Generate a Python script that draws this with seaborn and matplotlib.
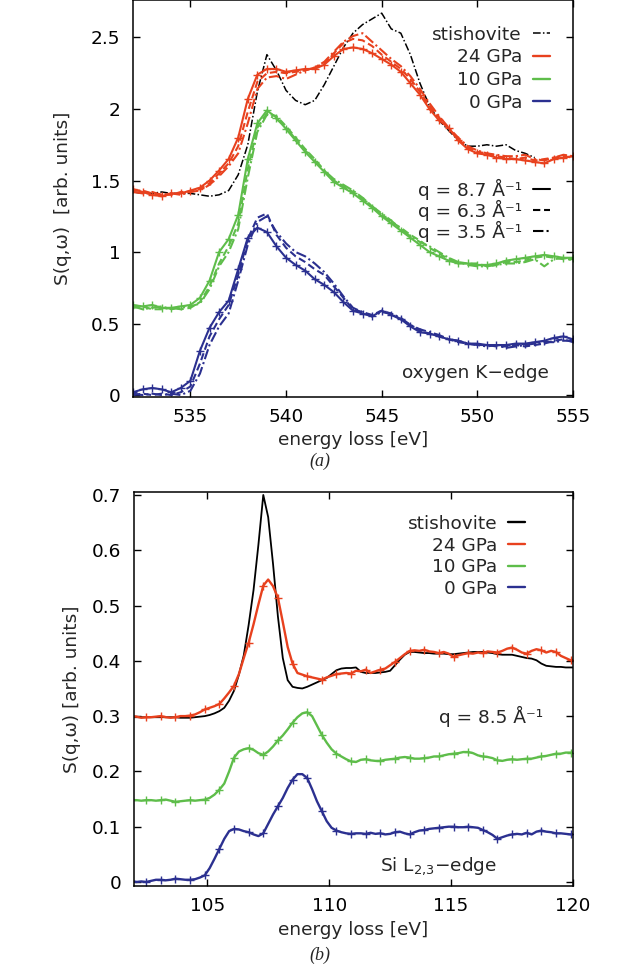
import numpy as np
import pandas as pd
import matplotlib
matplotlib.use('Agg')
import matplotlib.pyplot as plt
from matplotlib.lines import Line2D
import seaborn as sns

# ---- panel (a): oxygen K-edge, energy loss [eV] ----
e_oxygen = [532.0, 532.5, 533.0, 533.5, 534.0, 534.5, 535.0, 535.5, 536.0, 536.5,
            537.0, 537.5, 538.0, 538.5, 539.0, 539.5, 540.0, 540.5, 541.0, 541.5,
            542.0, 542.5, 543.0, 543.5, 544.0, 544.5, 545.0, 545.5, 546.0, 546.5,
            547.0, 547.5, 548.0, 548.5, 549.0, 549.5, 550.0, 550.5, 551.0, 551.5,
            552.0, 552.5, 553.0, 553.5, 554.0, 554.5, 555.0]

ox_stishovite = [1.42, 1.41, 1.41, 1.42, 1.41, 1.41, 1.41, 1.40, 1.39, 1.40,
                 1.43, 1.54, 1.75, 2.12, 2.38, 2.27, 2.13, 2.06, 2.03, 2.06,
                 2.17, 2.30, 2.43, 2.53, 2.59, 2.63, 2.67, 2.56, 2.53, 2.38,
                 2.18, 2.02, 1.92, 1.85, 1.78, 1.74, 1.74, 1.75, 1.74, 1.75,
                 1.71, 1.69, 1.66, np.nan, np.nan, np.nan, np.nan]

ox_24_q87 = [1.44, 1.42, 1.40, 1.39, 1.41, 1.41, 1.43, 1.45, 1.50, 1.57,
             1.65, 1.80, 2.07, 2.24, 2.28, 2.28, 2.26, 2.27, 2.28, 2.28,
             2.31, 2.37, 2.42, 2.43, 2.42, 2.39, 2.35, 2.31, 2.26, 2.18,
             2.10, 2.00, 1.92, 1.87, 1.78, 1.72, 1.69, 1.68, 1.66, 1.65,
             1.65, 1.64, 1.63, 1.62, 1.65, 1.66, 1.67]
ox_24_q63 = [1.43, 1.43, 1.41, 1.40, 1.40, 1.42, 1.42, 1.44, 1.48, 1.55,
             1.62, 1.74, 1.98, 2.19, 2.25, 2.26, 2.25, 2.26, 2.27, 2.29,
             2.32, 2.39, 2.46, 2.49, 2.48, 2.44, 2.38, 2.33, 2.28, 2.21,
             2.12, 2.02, 1.94, 1.86, 1.79, 1.73, 1.70, 1.69, 1.67, 1.66,
             1.65, 1.66, 1.64, 1.65, 1.66, 1.67, 1.66]
ox_24_q35 = [1.42, 1.41, 1.42, 1.40, 1.41, 1.40, 1.42, 1.43, 1.47, 1.53,
             1.60, 1.69, 1.90, 2.14, 2.22, 2.23, 2.21, 2.24, 2.27, 2.29,
             2.33, 2.40, 2.47, 2.51, 2.53, 2.47, 2.41, 2.35, 2.30, 2.23,
             2.14, 2.04, 1.95, 1.87, 1.80, 1.74, 1.71, 1.69, 1.68, 1.67,
             1.67, 1.68, 1.65, 1.64, 1.66, 1.68, 1.67]

ox_10_q87 = [0.63, 0.62, 0.63, 0.61, 0.61, 0.62, 0.63, 0.68, 0.80, 1.00,
             1.09, 1.26, 1.65, 1.90, 1.99, 1.94, 1.86, 1.78, 1.70, 1.63,
             1.56, 1.49, 1.45, 1.41, 1.36, 1.31, 1.25, 1.20, 1.15, 1.10,
             1.05, 1.00, 0.97, 0.94, 0.92, 0.92, 0.91, 0.91, 0.92, 0.94,
             0.95, 0.96, 0.97, 0.98, 0.97, 0.96, 0.96]
ox_10_q63 = [0.61, 0.62, 0.60, 0.60, 0.61, 0.60, 0.61, 0.65, 0.76, 0.92,
             1.04, 1.20, 1.58, 1.87, 1.97, 1.95, 1.88, 1.80, 1.72, 1.65,
             1.57, 1.50, 1.46, 1.42, 1.37, 1.32, 1.26, 1.21, 1.17, 1.12,
             1.08, 1.03, 0.99, 0.95, 0.93, 0.92, 0.92, 0.90, 0.91, 0.93,
             0.93, 0.94, 0.96, 0.97, 0.96, 0.95, 0.95]
ox_10_q35 = [0.62, 0.60, 0.61, 0.62, 0.60, 0.61, 0.62, 0.64, 0.74, 0.90,
             1.00, 1.16, 1.52, 1.84, 1.96, 1.93, 1.87, 1.79, 1.71, 1.64,
             1.57, 1.51, 1.47, 1.43, 1.38, 1.32, 1.27, 1.22, 1.16, 1.11,
             1.07, 1.04, 1.00, 0.96, 0.93, 0.91, 0.90, 0.90, 0.91, 0.92,
             0.92, 0.93, 0.95, 0.90, 0.95, 0.96, 0.94]

ox_0_q87 = [0.02, 0.04, 0.05, 0.04, 0.02, 0.05, 0.10, 0.31, 0.47, 0.58,
            0.66, 0.88, 1.10, 1.17, 1.14, 1.04, 0.96, 0.91, 0.87, 0.81,
            0.77, 0.72, 0.65, 0.59, 0.57, 0.55, 0.59, 0.56, 0.53, 0.48,
            0.44, 0.43, 0.41, 0.39, 0.38, 0.36, 0.36, 0.35, 0.35, 0.35,
            0.36, 0.36, 0.37, 0.38, 0.40, 0.41, 0.39]
ox_0_q63 = [0.00, 0.01, 0.00, 0.01, 0.00, 0.02, 0.06, 0.22, 0.41, 0.53,
            0.63, 0.84, 1.09, 1.24, 1.27, 1.12, 1.03, 0.97, 0.93, 0.88,
            0.84, 0.76, 0.68, 0.60, 0.58, 0.56, 0.59, 0.57, 0.53, 0.49,
            0.45, 0.43, 0.41, 0.39, 0.37, 0.36, 0.35, 0.35, 0.34, 0.34,
            0.35, 0.34, 0.35, 0.36, 0.38, 0.39, 0.37]
ox_0_q35 = [0.01, 0.00, 0.01, 0.00, 0.01, 0.00, 0.03, 0.15, 0.35, 0.48,
            0.57, 0.80, 1.05, 1.21, 1.25, 1.14, 1.06, 1.00, 0.97, 0.92,
            0.86, 0.78, 0.69, 0.61, 0.58, 0.55, 0.58, 0.57, 0.54, 0.49,
            0.46, 0.44, 0.42, 0.39, 0.38, 0.36, 0.35, 0.34, 0.35, 0.33,
            0.34, 0.35, 0.36, 0.37, 0.37, 0.38, 0.38]

# ---- panel (b): Si L2,3-edge, energy loss [eV] ----
e_silicon = [101.9, 102.1, 102.3, 102.5, 102.7, 102.9, 103.1, 103.3, 103.5, 103.7,
             103.9, 104.1, 104.3, 104.5, 104.7, 104.9, 105.1, 105.3, 105.5, 105.7,
             105.9, 106.1, 106.3, 106.5, 106.7, 106.9, 107.1, 107.3, 107.5, 107.7,
             107.9, 108.1, 108.3, 108.5, 108.7, 108.9, 109.1, 109.3, 109.5, 109.7,
             109.9, 110.1, 110.3, 110.5, 110.7, 110.9, 111.1, 111.3, 111.5, 111.7,
             111.9, 112.1, 112.3, 112.5, 112.7, 112.9, 113.1, 113.3, 113.5, 113.7,
             113.9, 114.1, 114.3, 114.5, 114.7, 114.9, 115.1, 115.3, 115.5, 115.7,
             115.9, 116.1, 116.3, 116.5, 116.7, 116.9, 117.1, 117.3, 117.5, 117.7,
             117.9, 118.1, 118.3, 118.5, 118.7, 118.9, 119.1, 119.3, 119.5, 119.7,
             119.9, 120.1]

si_stishovite = [0.298, 0.298, 0.298, 0.298, 0.298, 0.298, 0.298, 0.298, 0.298, 0.298,
                 0.297, 0.297, 0.297, 0.298, 0.299, 0.300, 0.302, 0.305, 0.309, 0.315,
                 0.328, 0.346, 0.375, 0.410, 0.465, 0.528, 0.610, 0.700, 0.660, 0.575,
                 0.480, 0.405, 0.365, 0.353, 0.351, 0.350, 0.353, 0.357, 0.361, 0.365,
                 0.369, 0.376, 0.383, 0.386, 0.387, 0.387, 0.388, 0.380, 0.378, 0.378,
                 0.378, 0.379, 0.380, 0.382, 0.392, 0.402, 0.411, 0.416, 0.416, 0.415,
                 0.414, 0.414, 0.413, 0.413, 0.413, 0.412, 0.412, 0.413, 0.414, 0.415,
                 0.416, 0.416, 0.416, 0.415, 0.414, 0.412, 0.411, 0.411, 0.411, 0.409,
                 0.407, 0.405, 0.404, 0.401, 0.395, 0.391, 0.390, 0.389, 0.389, 0.388,
                 0.388, 0.388]
si_24 = [0.300, 0.299, 0.297, 0.298, 0.298, 0.299, 0.300, 0.298, 0.297, 0.298,
         0.300, 0.300, 0.301, 0.303, 0.307, 0.312, 0.315, 0.318, 0.322, 0.332,
         0.343, 0.355, 0.376, 0.405, 0.433, 0.466, 0.502, 0.536, 0.547, 0.535,
         0.514, 0.470, 0.425, 0.395, 0.378, 0.375, 0.372, 0.370, 0.368, 0.366,
         0.370, 0.373, 0.376, 0.377, 0.378, 0.377, 0.382, 0.381, 0.384, 0.378,
         0.381, 0.384, 0.386, 0.392, 0.398, 0.405, 0.412, 0.418, 0.419, 0.418,
         0.420, 0.417, 0.416, 0.414, 0.416, 0.413, 0.407, 0.410, 0.412, 0.414,
         0.413, 0.415, 0.414, 0.417, 0.416, 0.415, 0.418, 0.422, 0.424, 0.420,
         0.415, 0.413, 0.418, 0.421, 0.419, 0.415, 0.418, 0.416, 0.409, 0.405,
         0.401, 0.402]
si_10 = [0.148, 0.148, 0.147, 0.148, 0.148, 0.147, 0.148, 0.149, 0.147, 0.145,
         0.146, 0.147, 0.148, 0.147, 0.148, 0.149, 0.152, 0.158, 0.167, 0.178,
         0.200, 0.225, 0.236, 0.240, 0.242, 0.239, 0.233, 0.230, 0.236, 0.245,
         0.256, 0.265, 0.276, 0.288, 0.298, 0.305, 0.307, 0.300, 0.283, 0.266,
         0.252, 0.240, 0.232, 0.227, 0.222, 0.218, 0.217, 0.221, 0.222, 0.220,
         0.219, 0.219, 0.221, 0.222, 0.223, 0.225, 0.226, 0.225, 0.223, 0.223,
         0.224, 0.225, 0.227, 0.227, 0.229, 0.231, 0.232, 0.233, 0.235, 0.235,
         0.233, 0.229, 0.227, 0.226, 0.224, 0.220, 0.219, 0.221, 0.222, 0.221,
         0.222, 0.223, 0.223, 0.225, 0.227, 0.228, 0.230, 0.232, 0.232, 0.234,
         0.234, 0.234]
si_0 = [0.001, 0.000, 0.001, 0.000, 0.002, 0.004, 0.004, 0.003, 0.004, 0.006,
        0.005, 0.004, 0.004, 0.005, 0.008, 0.012, 0.025, 0.042, 0.060, 0.078,
        0.092, 0.096, 0.095, 0.092, 0.090, 0.086, 0.083, 0.088, 0.105, 0.122,
        0.137, 0.152, 0.170, 0.185, 0.195, 0.195, 0.188, 0.168, 0.146, 0.128,
        0.110, 0.098, 0.093, 0.090, 0.088, 0.087, 0.088, 0.088, 0.087, 0.089,
        0.087, 0.088, 0.086, 0.087, 0.090, 0.091, 0.088, 0.086, 0.090, 0.093,
        0.094, 0.096, 0.097, 0.098, 0.099, 0.100, 0.100, 0.099, 0.099, 0.100,
        0.099, 0.098, 0.094, 0.090, 0.085, 0.078, 0.081, 0.084, 0.086, 0.087,
        0.086, 0.089, 0.086, 0.091, 0.093, 0.091, 0.090, 0.088, 0.088, 0.087,
        0.086, 0.086]

pressures = ['stishovite', '24 GPa', '10 GPa', '0 GPa']
colors = {'stishovite': 'black', '24 GPa': '#E8411E', '10 GPa': '#5EBD4A', '0 GPa': '#2B3090'}
q_labels = ['q = 8.7 Å⁻¹', 'q = 6.3 Å⁻¹', 'q = 3.5 Å⁻¹']
q_styles = ['-', (0, (3.5, 1.8)), (0, (5, 1.5, 1, 1.5))]

xticks_a = [535, 540, 545, 550, 555]
yticks_a = [0, 0.5, 1, 1.5, 2, 2.5]
ytick_labels_a = ['0', '0.5', '1', '1.5', '2', '2.5']
xticks_b = [105, 110, 115, 120]
yticks_b = [0, 0.1, 0.2, 0.3, 0.4, 0.5, 0.6, 0.7]
ytick_labels_b = ['0', '0.1', '0.2', '0.3', '0.4', '0.5', '0.6', '0.7']

sns.set_theme(style='ticks')
plt.rcParams['font.family'] = ['DejaVu Sans']
plt.rcParams['mathtext.fontset'] = 'dejavusans'
FS = 13.3

fig = plt.figure(figsize=(6.4, 9.69), dpi=100)
ax_a = fig.add_axes([0.2078, 0.5908, 0.6875, 0.4092])
ax_b = fig.add_axes([0.2094, 0.0857, 0.686, 0.4066])


def draw(ax, x, y, color, ls='-', marker=None, lw=1.5, markevery=1):
    kw = dict(color=color, linestyle=ls, linewidth=lw)
    if marker:
        kw.update(marker=marker, markersize=6, markeredgewidth=1.0,
                  markeredgecolor=color, markevery=markevery)
    sns.lineplot(x=x, y=y, ax=ax, estimator=None, errorbar=None, sort=False, **kw)


# panel (a)
draw(ax_a, e_oxygen, ox_stishovite, 'black', q_styles[2], lw=1.1)
ox_series = {
    '24 GPa': [ox_24_q87, ox_24_q63, ox_24_q35],
    '10 GPa': [ox_10_q87, ox_10_q63, ox_10_q35],
    '0 GPa': [ox_0_q87, ox_0_q63, ox_0_q35],
}
for p in ['24 GPa', '10 GPa', '0 GPa']:
    for vals, ls in zip(ox_series[p], q_styles):
        draw(ax_a, e_oxygen, vals, colors[p], ls, marker='+' if ls == '-' else None)

# panel (b)
draw(ax_b, e_silicon, si_stishovite, 'black', '-', lw=1.3)
for p, vals in zip(['24 GPa', '10 GPa', '0 GPa'], [si_24, si_10, si_0]):
    draw(ax_b, e_silicon, vals, colors[p], '-', marker='+', lw=1.7, markevery=3)

for ax in (ax_a, ax_b):
    ax.tick_params(direction='in', length=5, width=1, top=True, right=True,
                   labelsize=FS, colors='black')
    ax.tick_params(axis='x', pad=8)
    ax.tick_params(axis='y', pad=9)
    for s in ax.spines.values():
        s.set_linewidth(1.1)
        s.set_color('black')
    ax.set_xlabel('energy loss [eV]', fontsize=FS)

ax_a.set_xlim(532, 555)
ax_a.set_ylim(-0.01, 2.762)
ax_a.set_xticks(xticks_a)
ax_a.set_yticks(yticks_a)
ax_a.set_yticklabels(ytick_labels_a)
ax_a.set_ylabel('S(q,ω)  [arb. units]', fontsize=FS)
ax_a.yaxis.set_label_coords(-0.139, 0.5)
ax_a.xaxis.set_label_coords(0.5, -0.086)

ax_b.set_xlim(102, 120)
ax_b.set_ylim(-0.0072, 0.7054)
ax_b.set_xticks(xticks_b)
ax_b.set_yticks(yticks_b)
ax_b.set_yticklabels(ytick_labels_b)
ax_b.set_ylabel('S(q,ω) [arb. units]', fontsize=FS)
ax_b.yaxis.set_label_coords(-0.121, 0.5)
ax_b.xaxis.set_label_coords(0.5, -0.089)

leg_kw = dict(loc='upper right', frameon=False, markerfirst=False, handlelength=0.92,
              handletextpad=0.6, borderpad=0, borderaxespad=0, fontsize=FS)

# legends (a)
h_press = [Line2D([], [], color='black', ls=q_styles[2], lw=1.1)] + \
          [Line2D([], [], color=colors[p], lw=1.7) for p in pressures[1:]]
leg1 = ax_a.legend(h_press, pressures, bbox_to_anchor=(0.948, 0.935),
                   labelspacing=0.25, **leg_kw)
ax_a.add_artist(leg1)
h_q = [Line2D([], [], color='black', ls=s, lw=1.5) for s in q_styles]
ax_a.legend(h_q, q_labels, bbox_to_anchor=(0.948, 0.55), labelspacing=0.0, **leg_kw)
ax_a.text(0.945, 0.059, 'oxygen K−edge', transform=ax_a.transAxes, ha='right',
          va='center', fontsize=FS)

# legends (b)
h_press_b = [Line2D([], [], color=colors[p], lw=1.7) for p in pressures]
ax_b.legend(h_press_b, pressures, bbox_to_anchor=(0.891, 0.942),
            labelspacing=0.2, **leg_kw)
ax_b.text(0.932, 0.431, 'q = 8.5 Å⁻¹', transform=ax_b.transAxes, ha='right',
          va='center', fontsize=FS)
ax_b.text(0.694, 0.05, r'Si L$_{2{,}3}$−edge', transform=ax_b.transAxes, ha='center',
          va='center', fontsize=FS)

fig.text(0.5, 1 - 461 / 969, '(a)', ha='center', va='center', fontsize=13,
         family='Liberation Serif', style='italic')
fig.text(0.5, 1 - 955 / 969, '(b)', ha='center', va='center', fontsize=13,
         family='Liberation Serif', style='italic')

fig.savefig('out.png', dpi=100)
